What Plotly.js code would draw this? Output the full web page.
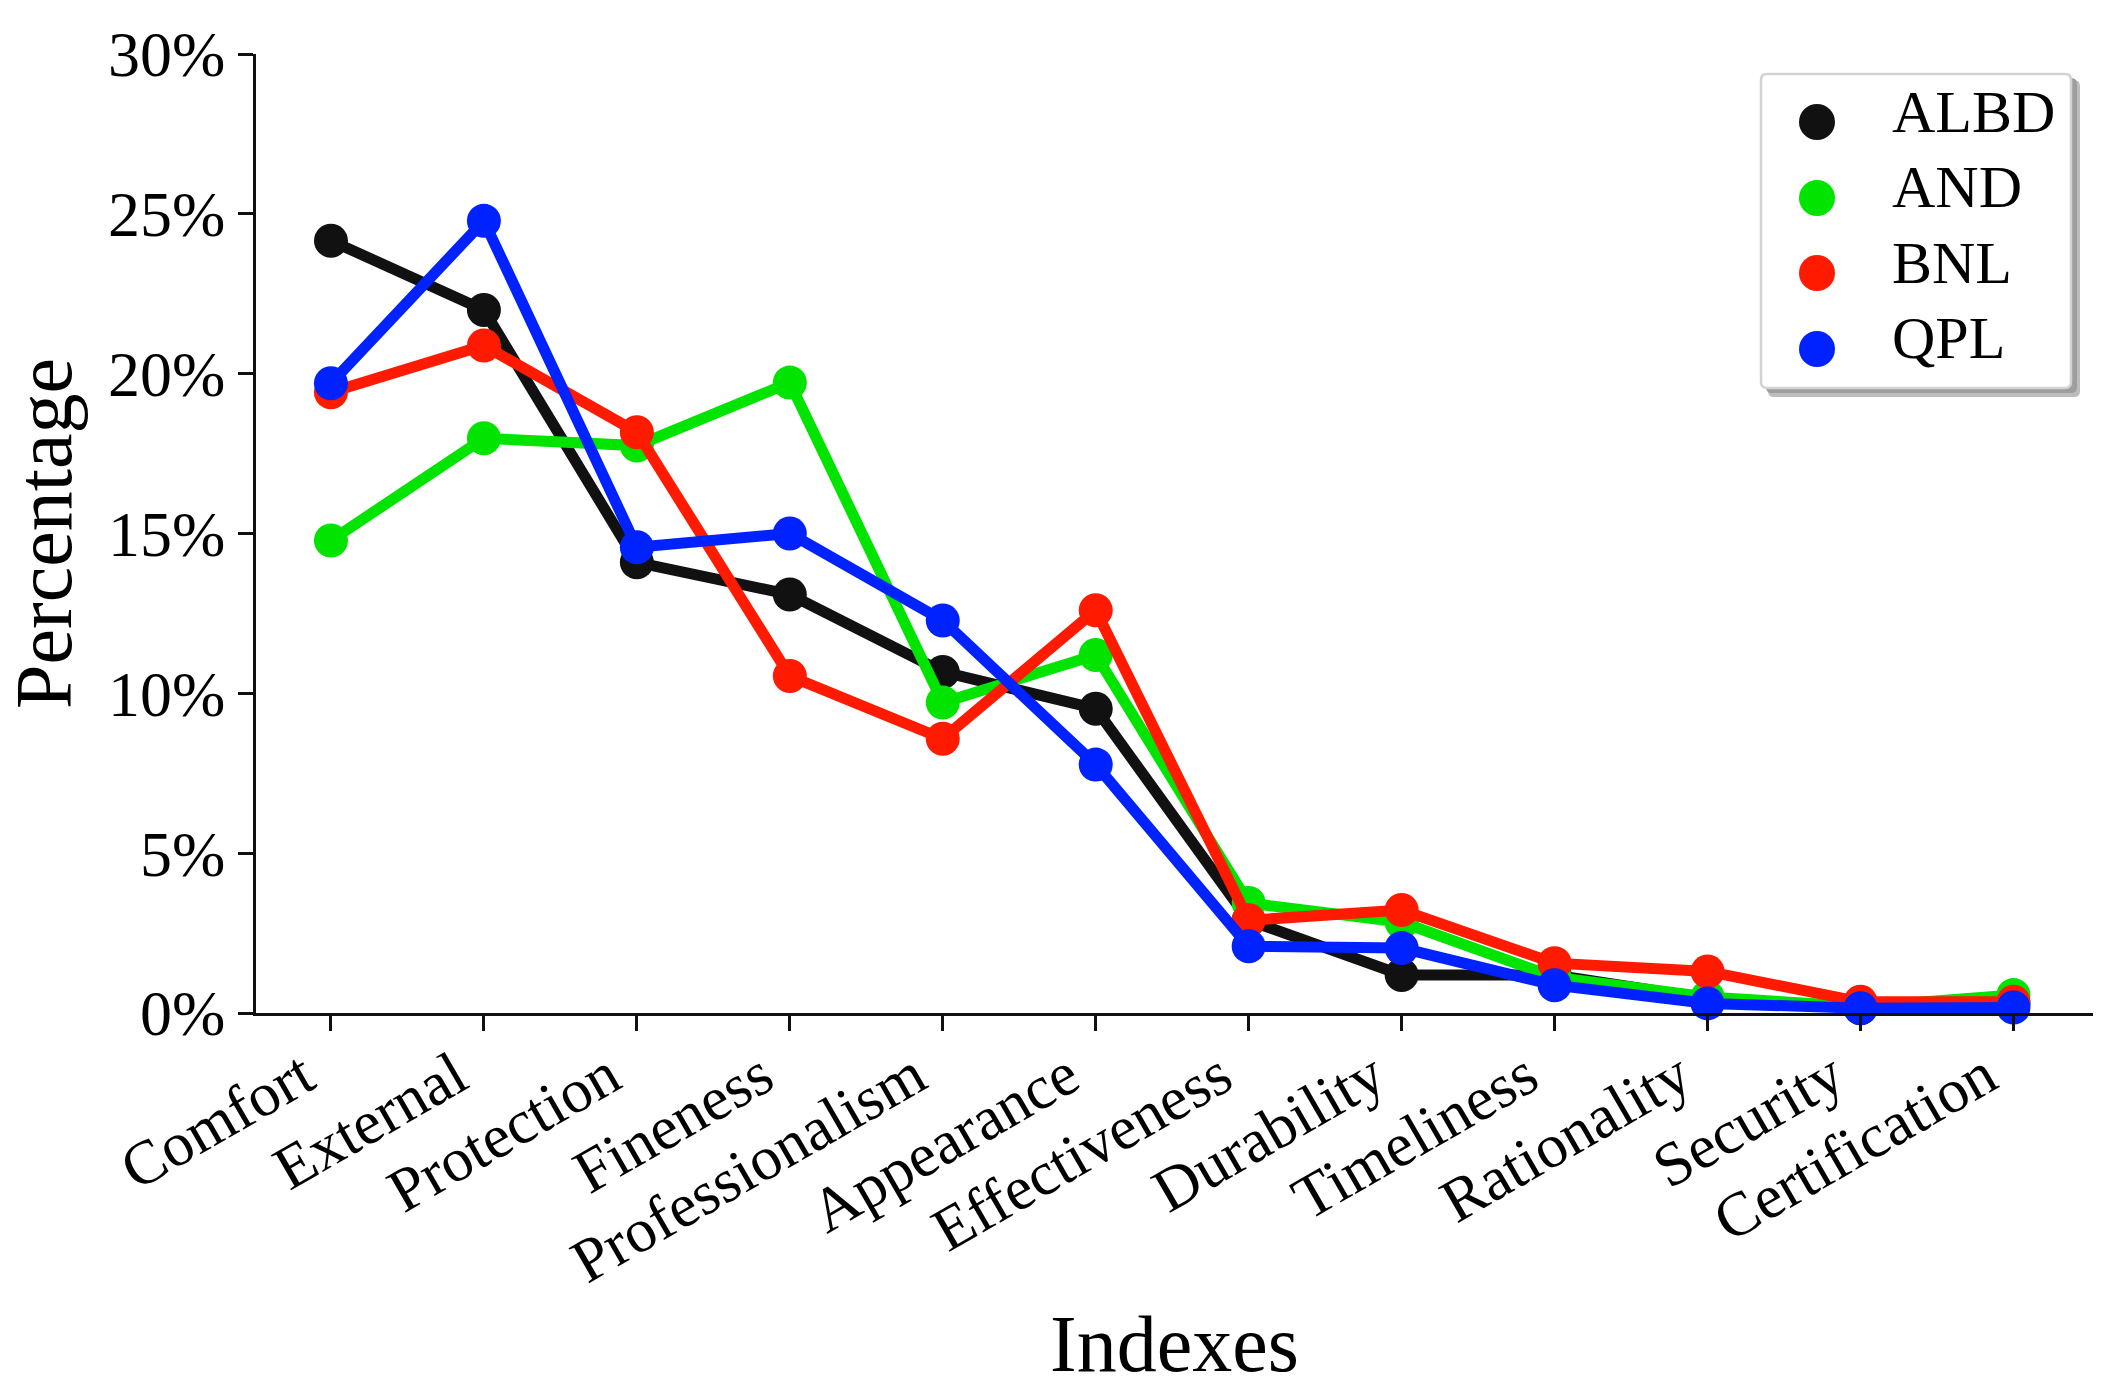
<!DOCTYPE html>
<html>
<head>
<meta charset="utf-8">
<script src="https://cdn.plot.ly/plotly-3.0.1.min.js"></script>
<style>html,body{margin:0;padding:0;background:#fff;}#chart{width:2117px;height:1400px;}</style>
</head>
<body>
<div id="chart"></div>
<script>
var categories = ["Comfort","External","Protection","Fineness","Professionalism","Appearance","Effectiveness","Durability","Timeliness","Rationality","Security","Certification"];
var seriesNames = ["ALBD","AND","BNL","QPL"];
var ALBD = [24.16, 21.99, 14.1, 13.09, 10.67, 9.52, 2.9, 1.19, 1.19, 0.45, 0.15, 0.3];
var AND  = [14.78, 17.98, 17.75, 19.72, 9.71, 11.2, 3.44, 2.84, 1.12, 0.5, 0.2, 0.56];
var BNL  = [19.42, 20.88, 18.17, 10.54, 8.58, 12.6, 2.9, 3.22, 1.56, 1.3, 0.35, 0.35];
var QPL  = [19.7, 24.78, 14.57, 15.0, 12.28, 7.77, 2.09, 2.03, 0.87, 0.3, 0.15, 0.17];
var yTicks = [0, 5, 10, 15, 20, 25, 30];
var yTickText = ["0%","5%","10%","15%","20%","25%","30%"];

var colors = {ALBD:"#111111", AND:"#00e400", BNL:"#ff1a00", QPL:"#0022ff"};
var values = {ALBD:ALBD, AND:AND, BNL:BNL, QPL:QPL};
var font = "Liberation Serif, Times New Roman, serif";

// plot area in px (for placing the legend decoration)
var W = 2117, H = 1400, mL = 256, mR = 24, mT = 54, mB = 387;
var pw = W - mL - mR, ph = H - mT - mB;
function px2x(p){ return (p - mL) / pw; }
function px2y(p){ return (H - mB - p) / ph; }

var traces = [];
seriesNames.forEach(function(n){
  traces.push({
    x: categories, y: values[n], type: "scatter", mode: "lines+markers",
    name: n, showlegend: false, cliponaxis: false,
    line: {color: colors[n], width: 11},
    marker: {color: colors[n], size: 34}
  });
});
// one legend per entry so each row can be placed exactly; symbols drawn as shapes
var legendKeys = ["legend", "legend2", "legend3", "legend4"];
var legendTextY = [108.5, 184, 259.5, 335];
var legendSymY = [122, 198, 273, 349];
seriesNames.forEach(function(n, i){
  traces.push({
    x: [null], y: [null], type: "scatter", mode: "markers",
    name: n, showlegend: true, legend: legendKeys[i],
    marker: {color: "rgba(0,0,0,0)", size: 1}
  });
});

var layout = {
  width: W, height: H,
  margin: {l: mL, r: mR, t: mT, b: mB},
  paper_bgcolor: "#ffffff", plot_bgcolor: "#ffffff",
  font: {family: font, color: "#000", size: 62},
  showlegend: true,
  xaxis: {
    type: "category", range: [-0.49, 11.52],
    showgrid: false, zeroline: false,
    showline: true, linecolor: "#111", linewidth: 3,
    ticks: "outside", ticklen: 15, tickwidth: 3, tickcolor: "#111",
    tickangle: -30, tickfont: {family: font, size: 62, color: "#000"},
    ticklabelshift: -28, ticklabelstandoff: -15,
    title: {text: "Indexes", font: {family: font, size: 80, color: "#000"}, standoff: 21},
    automargin: false
  },
  yaxis: {
    range: [0, 30], tickvals: yTicks, ticktext: yTickText,
    showgrid: false, zeroline: false,
    showline: true, linecolor: "#111", linewidth: 3,
    ticks: "outside", ticklen: 15, tickwidth: 3, tickcolor: "#111",
    tickfont: {family: font, size: 64, color: "#000"},
    title: {text: "Percentage", font: {family: font, size: 80, color: "#000"}, standoff: 23},
    automargin: false
  },
  shapes: []
};

legendKeys.forEach(function(k, i){
  layout[k] = {
    x: px2x(1852), y: px2y(legendTextY[i]), xanchor: "left", yanchor: "middle",
    bgcolor: "rgba(0,0,0,0)", borderwidth: 0,
    font: {family: font, size: 60, color: "#000"},
    itemclick: false, itemdoubleclick: false
  };
});

function roundRect(x0p, x1p, y0p, y1p, r){
  var x0 = px2x(x0p), x1 = px2x(x1p), yt = px2y(y0p), yb = px2y(y1p);
  var rx = r / pw, ry = r / ph;
  return "M" + (x0 + rx) + "," + yt +
    " L" + (x1 - rx) + "," + yt + " Q" + x1 + "," + yt + " " + x1 + "," + (yt - ry) +
    " L" + x1 + "," + (yb + ry) + " Q" + x1 + "," + yb + " " + (x1 - rx) + "," + yb +
    " L" + (x0 + rx) + "," + yb + " Q" + x0 + "," + yb + " " + x0 + "," + (yb + ry) +
    " L" + x0 + "," + (yt - ry) + " Q" + x0 + "," + yt + " " + (x0 + rx) + "," + yt + " Z";
}
// shadow
layout.shapes.push({type: "path", xref: "paper", yref: "paper", path: roundRect(1768, 2080, 80, 397, 6),
  fillcolor: "#bdbdbd", line: {width: 0}, layer: "above"});
layout.shapes.push({type: "path", xref: "paper", yref: "paper", path: roundRect(1766, 2077, 78, 393, 6),
  fillcolor: "#9e9e9e", line: {width: 0}, layer: "above"});
// box
layout.shapes.push({type: "path", xref: "paper", yref: "paper", path: roundRect(1761, 2071, 74, 388, 6),
  fillcolor: "#ffffff", line: {color: "#d2d2d2", width: 2.5}, layer: "above"});
// legend symbols
seriesNames.forEach(function(n, i){
  layout.shapes.push({
    type: "circle", xref: "paper", yref: "paper",
    xsizemode: "pixel", ysizemode: "pixel",
    xanchor: px2x(1817), yanchor: px2y(legendSymY[i]),
    x0: -18, x1: 18, y0: -18, y1: 18,
    fillcolor: colors[n], line: {width: 0}, layer: "above"
  });
});

Plotly.newPlot("chart", traces, layout, {displayModeBar: false, staticPlot: true});
</script>
</body>
</html>
